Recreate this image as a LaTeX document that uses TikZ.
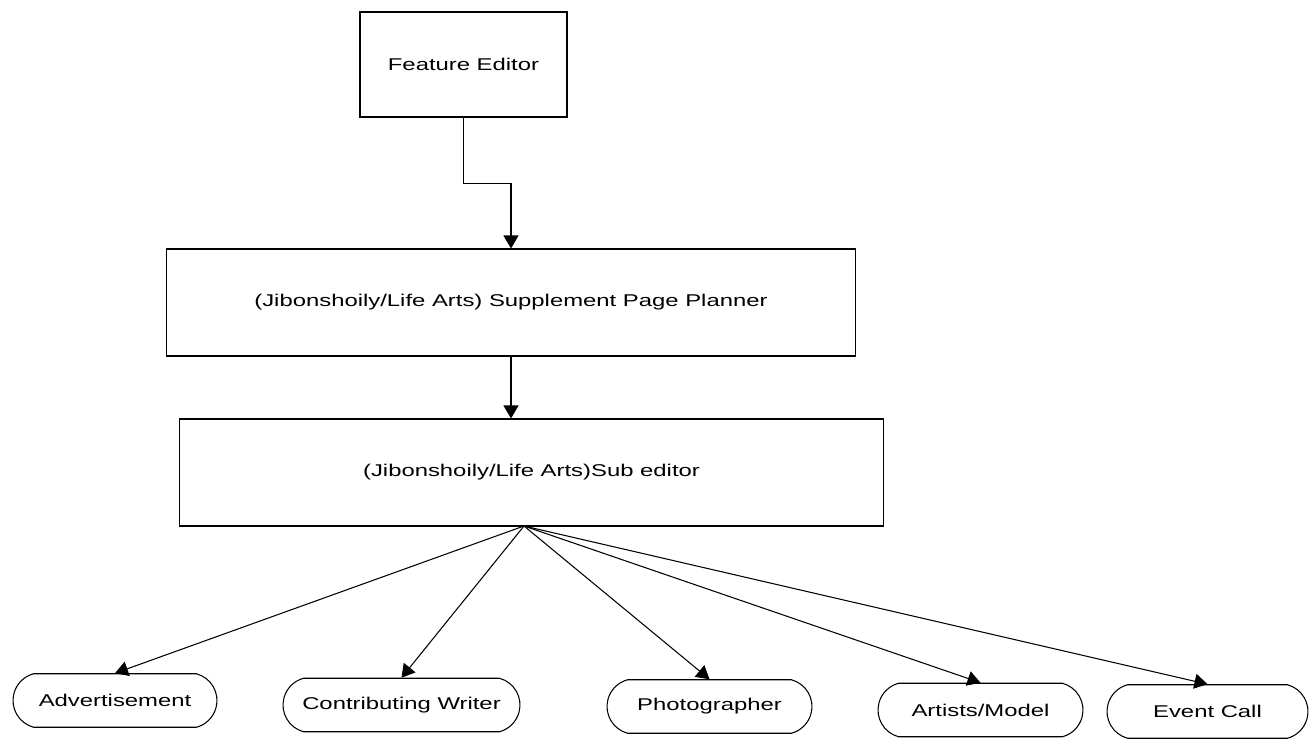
\documentclass[tikz,border=0pt]{standalone}
\usepackage{fontspec}
\setmainfont{Liberation Sans}[FakeStretch=1.4]
\usetikzlibrary{arrows.meta,shapes.misc}

\begin{document}
\begin{tikzpicture}[x=0.02cm,y=-0.02cm,line width=0.6pt,
    font=\fontsize{9.7}{11.6}\selectfont,
    box/.style={draw,rectangle,inner sep=0pt},
    role/.style={draw,rounded rectangle,rounded rectangle arc length=150,inner sep=0pt,minimum width=4.1cm,minimum height=1.07cm},
    arr/.style={-{Triangle[width=0.3cm,length=0.26cm]}}]
            \useasboundingbox (0,0) rectangle (1309,740);
            \node[box,minimum width=4.14cm,minimum height=2.1cm] (fe) at (463.5,64.5) {Feature Editor};
            \node[box,minimum width=13.8cm,minimum height=2.14cm] (plan) at (511,302.5) {(Jibonshoily/Life Arts) Supplement Page Planner};
            \node[box,minimum width=14.1cm,minimum height=2.14cm] (sub) at (531.5,472.5) {(Jibonshoily/Life Arts)Sub editor};
            \node[role,minimum width=4.08cm] (adv) at (115,700.5) {Advertisement};
            \node[role,minimum width=4.74cm] (cw) at (401.5,705) {Contributing Writer};
            \node[role] (ph) at (709.5,706.5) {Photographer};
            \node[role] (am) at (980.5,710) {Artists/Model};
            \node[role,minimum width=4.02cm] (ec) at (1207.5,711.5) {Event Call};
            \coordinate (fan) at (524,526);
            \draw[arr] (fe.south) -- ++(0,66) -| (plan.north);
            \draw[arr] (plan.south) -- (plan.south |- sub.north);
            \foreach \n in {adv,cw,ph,am,ec}
                \draw[arr] (fan) -- (\n.north);
        \end{tikzpicture}
\end{document}
